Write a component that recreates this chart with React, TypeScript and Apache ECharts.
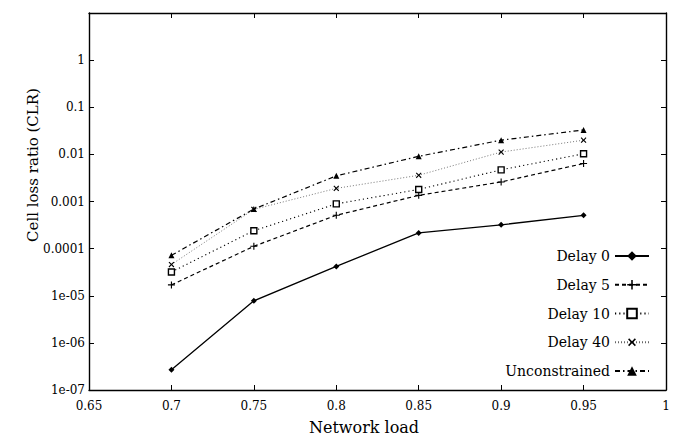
import React, { useEffect, useRef } from "react";
import * as echarts from "echarts";

const loads = [0.7, 0.75, 0.8, 0.85, 0.9, 0.95];
const delay0 = [2.7e-7, 7.8e-6, 4.2e-5, 2.15e-4, 3.2e-4, 5.1e-4];
const delay5 = [1.7e-5, 1.12e-4, 5.1e-4, 1.35e-3, 2.6e-3, 6.4e-3];
const delay10 = [3.2e-5, 2.4e-4, 8.9e-4, 1.8e-3, 4.7e-3, 1.03e-2];
const delay40 = [4.6e-5, 6.8e-4, 1.9e-3, 3.6e-3, 1.12e-2, 2.0e-2];
const unconstrained = [7.2e-5, 6.9e-4, 3.5e-3, 9.1e-3, 2.0e-2, 3.3e-2];

const seriesNames = ["Delay 0", "Delay 5", "Delay 10", "Delay 40", "Unconstrained"];
const xTickValues = [0.65, 0.7, 0.75, 0.8, 0.85, 0.9, 0.95, 1];
const xTickLabels = ["0.65", "0.7", "0.75", "0.8", "0.85", "0.9", "0.95", "1"];
const yTickExponents = [-7, -6, -5, -4, -3, -2, -1, 0];
const yTickLabels = ["1e-07", "1e-06", "1e-05", "0.0001", "0.001", "0.01", "0.1", "1"];

const xTitle = "Network load";
const yTitle = "Cell loss ratio (CLR)";

const PLUS = "path://M4.2,0H5.8V4.2H10V5.8H5.8V10H4.2V5.8H0V4.2H4.2Z";
const SERIF = "DejaVu Serif";

function pair(vals: number[]) {
  return loads.map((x, i) => [x, vals[i]]);
}

export default function App() {
  const ref = useRef<HTMLDivElement>(null);
  useEffect(() => {
    if (!ref.current) return;
    const chart = echarts.init(ref.current, undefined, { renderer: "svg" });
    const xLabel = (v: number) => {
      const i = xTickValues.findIndex((t) => Math.abs(t - v) < 1e-6);
      return i >= 0 ? xTickLabels[i] : "";
    };
    const yLabel = (v: number) => {
      const e = Math.round(Math.log10(v));
      const i = yTickExponents.indexOf(e);
      return i >= 0 ? yTickLabels[i] : "";
    };
    const tickStyle = { show: true, inside: true, length: 5, lineStyle: { color: "#000", width: 1 } };
    const lineAxis = { show: true, lineStyle: { color: "#000", width: 1.4 } };
    const base = {
      type: "line",
      xAxisIndex: 0,
      yAxisIndex: 0,
      symbolKeepAspect: true,
      z: 3,
    };
    chart.setOption({
      animation: false,
      backgroundColor: "#fff",
      grid: { left: 89, right: 9, top: 13, bottom: 46, containLabel: false },
      xAxis: [
        {
          type: "value",
          min: 0.65,
          max: 1,
          interval: 0.05,
          axisLine: lineAxis,
          axisTick: tickStyle,
          splitLine: { show: false },
          axisLabel: {
            formatter: xLabel,
            color: "#000",
            fontFamily: SERIF,
            fontSize: 12,
            margin: 10,
          },
        },
        {
          type: "value",
          position: "top",
          min: 0.65,
          max: 1,
          interval: 0.05,
          axisLine: lineAxis,
          axisTick: tickStyle,
          splitLine: { show: false },
          axisLabel: { show: false },
        },
      ],
      yAxis: [
        {
          type: "log",
          logBase: 10,
          min: 1e-7,
          max: 10,
          axisLine: lineAxis,
          axisTick: tickStyle,
          splitLine: { show: false },
          axisLabel: {
            formatter: yLabel,
            color: "#000",
            fontFamily: SERIF,
            fontSize: 12,
            margin: 4,
          },
        },
        {
          type: "log",
          logBase: 10,
          position: "right",
          min: 1e-7,
          max: 10,
          axisLine: lineAxis,
          axisTick: tickStyle,
          splitLine: { show: false },
          axisLabel: { show: false },
        },
      ],
      legend: {
        orient: "vertical",
        right: 20,
        top: 244,
        align: "right",
        itemWidth: 34,
        itemHeight: 12,
        itemGap: 14.75,
        data: seriesNames,
        textStyle: { color: "#000", fontFamily: SERIF, fontSize: 14 },
      },
      graphic: [
        {
          type: "text",
          x: 33,
          y: 165,
          rotation: Math.PI / 2,
          style: {
            text: yTitle,
            fontFamily: SERIF,
            fontSize: 15,
            fill: "#000",
            textAlign: "center",
            textVerticalAlign: "middle",
          },
        },
        {
          type: "text",
          x: 364,
          y: 427,
          style: {
            text: xTitle,
            fontFamily: SERIF,
            fontSize: 16,
            fill: "#000",
            textAlign: "center",
            textVerticalAlign: "middle",
          },
        },
      ],
      series: [
        {
          ...base,
          name: seriesNames[0],
          data: pair(delay0),
          symbol: "diamond",
          symbolSize: 6,
          lineStyle: { color: "#000", width: 1.3, type: "solid" },
          itemStyle: { color: "#000" },
        },
        {
          ...base,
          name: seriesNames[1],
          data: pair(delay5),
          symbol: PLUS,
          symbolSize: 7,
          lineStyle: { color: "#000", width: 1.2, type: [4, 3] },
          itemStyle: { color: "#000" },
        },
        {
          ...base,
          name: seriesNames[2],
          data: pair(delay10),
          symbol: "rect",
          symbolSize: 6,
          lineStyle: { color: "#000", width: 1.1, type: [1.2, 3] },
          itemStyle: { color: "#fff", borderColor: "#000", borderWidth: 1.4 },
        },
        {
          ...base,
          name: seriesNames[3],
          data: pair(delay40),
          symbol: PLUS,
          symbolRotate: 45,
          symbolSize: 7,
          lineStyle: { color: "#666", width: 0.9, type: [1, 2] },
          itemStyle: { color: "#000" },
        },
        {
          ...base,
          name: seriesNames[4],
          data: pair(unconstrained),
          symbol: "triangle",
          symbolSize: 6,
          lineStyle: { color: "#000", width: 1.2, type: [5, 3, 1.5, 3] },
          itemStyle: { color: "#000" },
        },
      ],
    });
    return () => chart.dispose();
  }, []);
  return (
    <div
      ref={ref}
      style={{ position: "fixed", left: 0, top: 0, width: 675, height: 436, background: "#fff" }}
    />
  );
}
